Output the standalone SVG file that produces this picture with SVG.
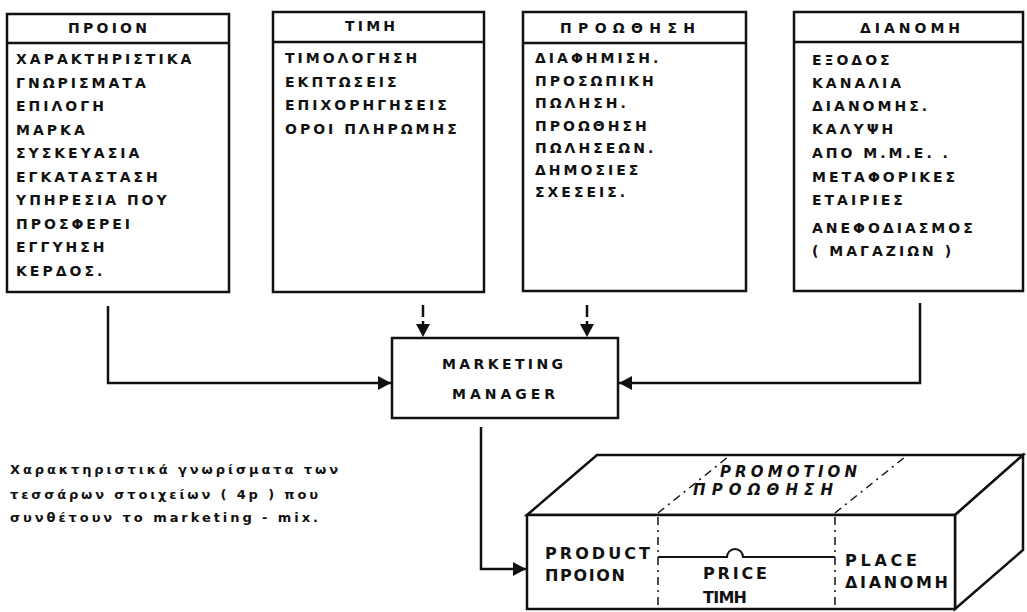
<svg xmlns="http://www.w3.org/2000/svg" width="1027" height="612" viewBox="0 0 1027 612">
<style>
.box{fill:#fff;stroke:#111;stroke-width:2.5}
.ln{fill:none;stroke:#111;stroke-width:2.5}
.t{font-family:"DejaVu Sans","Liberation Sans",sans-serif;font-weight:bold;font-size:14px;fill:#111;letter-spacing:3px}
.h{font-family:"DejaVu Sans","Liberation Sans",sans-serif;font-weight:bold;font-size:14px;fill:#111}
.b{font-family:"DejaVu Sans","Liberation Sans",sans-serif;font-weight:bold;font-size:16px;fill:#111}
.i{font-family:"DejaVu Sans","Liberation Sans",sans-serif;font-weight:bold;font-style:italic;font-size:15px;fill:#111}
.c{font-family:"DejaVu Sans","Liberation Sans",sans-serif;font-weight:bold;font-size:13px;fill:#111}
.dash{fill:none;stroke:#111;stroke-width:1.5;stroke-dasharray:8 5 2 5}
</style>
<defs>
<marker id="arr" markerUnits="userSpaceOnUse" markerWidth="14" markerHeight="14" refX="13" refY="7" orient="auto">
<path d="M0,0 L13,7 L0,14 z" fill="#111"/>
</marker>
</defs>
<rect width="1027" height="612" fill="#fff"/>

<g id="product">
<rect class="box" x="7" y="14" width="222" height="278"/>
<line class="ln" x1="7" y1="43" x2="229" y2="43"/>
<text class="h" x="68" y="33" textLength="79" lengthAdjust="spacing">ΠΡΟΙΟΝ</text>
<text class="t" x="16" y="64">ΧΑΡΑΚΤΗΡΙΣΤΙΚΑ</text>
<text class="t" x="16" y="87.5">ΓΝΩΡΙΣΜΑΤΑ</text>
<text class="t" x="16" y="111">ΕΠΙΛΟΓΗ</text>
<text class="t" x="16" y="134.5">ΜΑΡΚΑ</text>
<text class="t" x="16" y="158">ΣΥΣΚΕΥΑΣΙΑ</text>
<text class="t" x="16" y="181.5">ΕΓΚΑΤΑΣΤΑΣΗ</text>
<text class="t" x="16" y="205">ΥΠΗΡΕΣΙΑ ΠΟΥ</text>
<text class="t" x="16" y="228.5">ΠΡΟΣΦΕΡΕΙ</text>
<text class="t" x="16" y="252">ΕΓΓΥΗΣΗ</text>
<text class="t" x="16" y="275.5">ΚΕΡΔΟΣ.</text>
</g>

<g id="price">
<rect class="box" x="273" y="12" width="211" height="280"/>
<line class="ln" x1="273" y1="42" x2="484" y2="42"/>
<text class="h" x="345" y="31" font-size="12" textLength="50" lengthAdjust="spacing">ΤΙΜΗ</text>
<text class="t" x="285" y="63">ΤΙΜΟΛΟΓΗΣΗ</text>
<text class="t" x="285" y="86.5">ΕΚΠΤΩΣΕΙΣ</text>
<text class="t" x="285" y="110">ΕΠΙΧΟΡΗΓΗΣΕΙΣ</text>
<text class="t" x="285" y="133.5">ΟΡΟΙ ΠΛΗΡΩΜΗΣ</text>
</g>

<g id="promotion">
<rect class="box" x="523" y="12" width="223" height="279"/>
<line class="ln" x1="523" y1="43" x2="746" y2="43"/>
<text class="h" x="560" y="33" textLength="135" lengthAdjust="spacing">ΠΡΟΩΘΗΣΗ</text>
<text class="t" x="535" y="63">ΔΙΑΦΗΜΙΣΗ.</text>
<text class="t" x="535" y="85.5">ΠΡΟΣΩΠΙΚΗ</text>
<text class="t" x="535" y="108">ΠΩΛΗΣΗ.</text>
<text class="t" x="535" y="130.5">ΠΡΟΩΘΗΣΗ</text>
<text class="t" x="535" y="153">ΠΩΛΗΣΕΩΝ.</text>
<text class="t" x="535" y="175">ΔΗΜΟΣΙΕΣ</text>
<text class="t" x="535" y="197">ΣΧΕΣΕΙΣ.</text>
</g>

<g id="place">
<rect class="box" x="794" y="12" width="229" height="279"/>
<line class="ln" x1="794" y1="42" x2="1023" y2="42"/>
<text class="h" x="860" y="33" textLength="100" lengthAdjust="spacing">ΔΙΑΝΟΜΗ</text>
<text class="t" x="812" y="65">ΕΞΟΔΟΣ</text>
<text class="t" x="812" y="88">ΚΑΝΑΛΙΑ</text>
<text class="t" x="812" y="111">ΔΙΑΝΟΜΗΣ.</text>
<text class="t" x="812" y="134">ΚΑΛΥΨΗ</text>
<text class="t" x="812" y="158">ΑΠΟ Μ.Μ.Ε. .</text>
<text class="t" x="812" y="182">ΜΕΤΑΦΟΡΙΚΕΣ</text>
<text class="t" x="812" y="205">ΕΤΑΙΡΙΕΣ</text>
<text class="t" x="812" y="233">ΑΝΕΦΟΔΙΑΣΜΟΣ</text>
<text class="t" x="812" y="256">( ΜΑΓΑΖΙΩΝ )</text>
</g>

<g id="manager">
<rect class="box" x="392" y="338" width="226" height="80"/>
<text class="h" x="442" y="369" textLength="121" lengthAdjust="spacing">MARKETING</text>
<text class="h" x="452" y="399" textLength="103" lengthAdjust="spacing">MANAGER</text>
</g>

<g id="connectors">
<path class="ln" d="M108,306 V383 H391" marker-end="url(#arr)"/>
<path class="ln" d="M423,305 V337" stroke-dasharray="12 4" marker-end="url(#arr)"/>
<path class="ln" d="M587,305 V337" stroke-dasharray="12 4" marker-end="url(#arr)"/>
<path class="ln" d="M920,303 V383 H619" marker-end="url(#arr)"/>
<path class="ln" d="M481,427 V569 H526" marker-end="url(#arr)"/>
</g>

<g id="mix-box">
<polygon class="box" points="527,515 597,455 1023,455 955,515"/>
<polygon class="box" points="955,515 1023,455 1023,550 955,609"/>
<rect class="box" x="527" y="515" width="428" height="94"/>
<line class="dash" x1="658" y1="517" x2="658" y2="608"/>
<line class="dash" x1="835" y1="517" x2="835" y2="608"/>
<line class="dash" x1="658" y1="513" x2="728" y2="457"/>
<line class="dash" x1="835" y1="513" x2="905" y2="457"/>
<path fill="none" stroke="#111" stroke-width="2" d="M658,557 H727 A8,8 0 0 1 743,557 H835"/>
<text class="i" x="720" y="477" textLength="137" lengthAdjust="spacing">PROMOTION</text>
<text class="i" x="693" y="495" textLength="140" lengthAdjust="spacing">ΠΡΟΩΘΗΣΗ</text>
<text class="b" x="545" y="559" textLength="105" lengthAdjust="spacing">PRODUCT</text>
<text class="b" x="545" y="581" textLength="80" lengthAdjust="spacing">ΠΡΟΙΟΝ</text>
<text class="b" x="703" y="579" textLength="64" lengthAdjust="spacing">PRICE</text>
<text class="b" x="703" y="603" textLength="44" lengthAdjust="spacing">ΤΙΜΗ</text>
<text class="b" x="845" y="566" textLength="72" lengthAdjust="spacing">PLACE</text>
<text class="b" x="845" y="588" textLength="103" lengthAdjust="spacing">ΔΙΑΝΟΜΗ</text>
</g>

<g id="caption">
<text class="c" x="10" y="474" textLength="328" lengthAdjust="spacing">Χαρακτηριστικά γνωρίσματα των</text>
<text class="c" x="10" y="499" textLength="308" lengthAdjust="spacing">τεσσάρων στοιχείων ( 4p ) που</text>
<text class="c" x="10" y="522" textLength="308" lengthAdjust="spacing">συνθέτουν το marketing - mix.</text>
</g>
</svg>
